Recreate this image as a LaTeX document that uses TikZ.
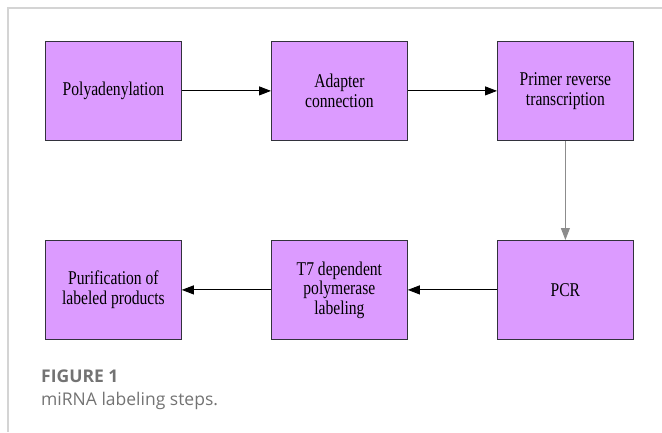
\documentclass[tikz,border=0pt]{standalone}
\usepackage{fontspec}
\setmainfont{Liberation Serif}
\newfontfamily\boxfont[FakeStretch=0.8]{Liberation Serif}
\newfontfamily\capfont{Open Sans}
\usetikzlibrary{arrows.meta}
\definecolor{boxfill}{RGB}{220,155,255}
\definecolor{boxline}{RGB}{50,50,60}
\definecolor{framegray}{RGB}{212,212,212}
\definecolor{capgray}{RGB}{115,115,115}
\begin{document}
\begin{tikzpicture}[x=1pt,y=-1pt,
  stepbox/.style={draw=boxline,line width=0.8pt,fill=boxfill,minimum width=136pt,minimum height=99pt,
    inner sep=2pt,align=center,font=\boxfont\fontsize{19.5}{19.5}\selectfont,anchor=north west},
  flow/.style={line width=0.9pt,-{Triangle[length=12pt,width=9pt]}},
  captext/.style={anchor=base west,inner sep=0pt,text=capgray}]
\useasboundingbox (0,0) rectangle (662,432);
\draw[framegray,line width=1.5pt] (662,8) -- (8,8) -- (8,432);
\node[stepbox] (a) at (45,41) {Polyadenylation};
\node[stepbox] (b) at (271,41) {Adapter\\connection};
\node[stepbox] (c) at (497,41) {Primer reverse\\transcription};
\node[stepbox] (d) at (497,240) {PCR};
\node[stepbox] (e) at (271,240) {T7 dependent\\polymerase\\labeling};
\node[stepbox] (f) at (45,240) {Purification of\\labeled products};
\draw[flow] (a) -- (b);
\draw[flow] (b) -- (c);
\draw[flow,draw=gray!90] (c) -- (d);
\draw[flow] (d) -- (e);
\draw[flow] (e) -- (f);
\node[captext,font=\capfont\bfseries\fontsize{17.5}{20}\selectfont] (fig) at (41,382) {FIGURE 1};
\node[captext,font=\capfont\fontsize{17.5}{20}\selectfont] (cap) at (41,405) {miRNA labeling steps.};
\end{tikzpicture}
\end{document}
